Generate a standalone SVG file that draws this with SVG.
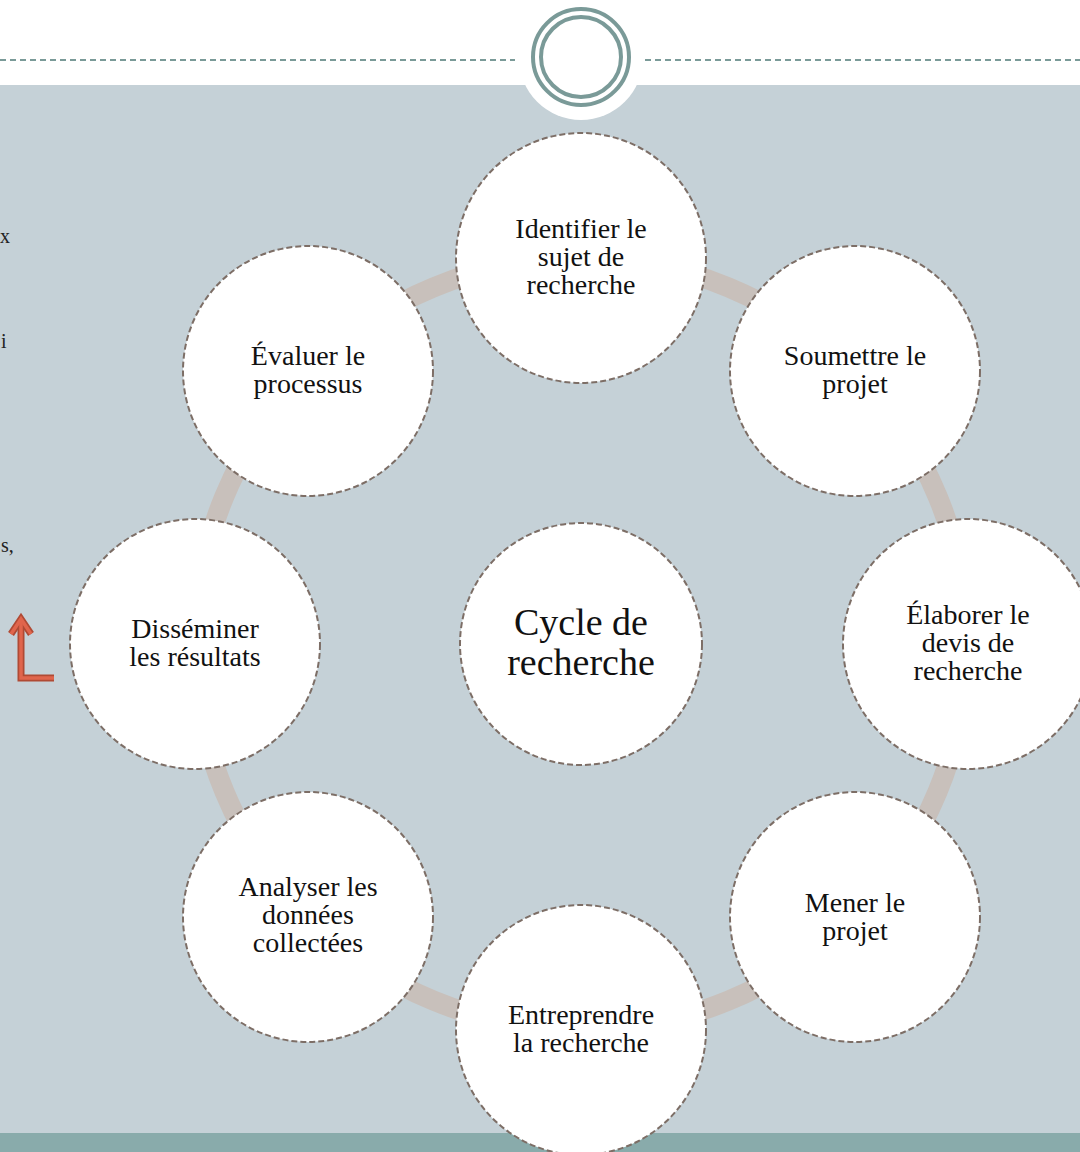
<svg xmlns="http://www.w3.org/2000/svg" width="1080" height="1152" viewBox="0 0 1080 1152">
<style>
.node{fill:#ffffff;stroke:#7d6e66;stroke-width:2;stroke-dasharray:6 3}
.lbl{font-family:"Liberation Serif","DejaVu Serif",serif;font-size:28px;fill:#111;text-anchor:middle}
.big{font-size:38px}
.ring{fill:none;stroke:#c8c0bb;stroke-width:20}
.frag{font-family:"Liberation Serif",serif;font-size:20px;fill:#222}
</style>
<rect x="0" y="0" width="1080" height="1152" fill="#ffffff"/>
<rect x="0" y="85" width="1080" height="1048" fill="#c5d1d7"/>
<rect x="0" y="1133" width="1080" height="19" fill="#89abab"/>
<g id="header">
<line x1="0" y1="60" x2="515" y2="60" stroke="#7a9a98" stroke-width="2" stroke-dasharray="6 4"/>
<line x1="645" y1="60" x2="1080" y2="60" stroke="#7a9a98" stroke-width="2" stroke-dasharray="6 4"/>
<circle cx="581" cy="58" r="62" fill="#ffffff"/>
<circle cx="581" cy="57" r="48" fill="none" stroke="#7a9a98" stroke-width="4"/>
<circle cx="581" cy="57" r="40" fill="none" stroke="#7a9a98" stroke-width="4"/>
</g>
<g id="fragments">
<text class="frag" x="0" y="243">x</text>
<text class="frag" x="1" y="348">i</text>
<text class="frag" x="1" y="552">s,</text>
</g>
<g id="arrow">
<path d="M21 622 L21 678 L54 678" fill="none" stroke="#b04a34" stroke-width="7"/>
<path d="M11 634 L21 619 L31 634" fill="none" stroke="#b04a34" stroke-width="7"/>
<path d="M21 622 L21 678 L54 678" fill="none" stroke="#e0654c" stroke-width="3.5"/>
<path d="M11 634 L21 619 L31 634" fill="none" stroke="#e0654c" stroke-width="3.5"/>
</g>
<g id="connectors">
<path class="ring" d="M581 258 A386 386 0 0 1 853.9 371.1"/>
<path class="ring" d="M853.9 371.1 A386 386 0 0 1 967 644"/>
<path class="ring" d="M967 644 A386 386 0 0 1 853.9 916.9"/>
<path class="ring" d="M853.9 916.9 A386 386 0 0 1 581 1030"/>
<path class="ring" d="M581 1030 A386 386 0 0 1 308.1 916.9"/>
<path class="ring" d="M308.1 916.9 A386 386 0 0 1 195 644"/>
<path class="ring" d="M195 644 A386 386 0 0 1 308.1 371.1"/>
<path class="ring" d="M308.1 371.1 A386 386 0 0 1 581 258"/>
</g>
<g id="n-center">
<circle class="node" cx="581" cy="644" r="121"/>
<text class="lbl big" x="581" y="635">Cycle de</text>
<text class="lbl big" x="581" y="675">recherche</text>
</g>
<g id="n-identifier">
<circle class="node" cx="581" cy="258" r="125"/>
<text class="lbl" x="581" y="238">Identifier le</text>
<text class="lbl" x="581" y="266">sujet de</text>
<text class="lbl" x="581" y="294">recherche</text>
</g>
<g id="n-soumettre">
<circle class="node" cx="855" cy="371" r="125"/>
<text class="lbl" x="855" y="365">Soumettre le</text>
<text class="lbl" x="855" y="393">projet</text>
</g>
<g id="n-elaborer">
<circle class="node" cx="968" cy="644" r="125"/>
<text class="lbl" x="968" y="624">Élaborer le</text>
<text class="lbl" x="968" y="652">devis de</text>
<text class="lbl" x="968" y="680">recherche</text>
</g>
<g id="n-mener">
<circle class="node" cx="855" cy="917" r="125"/>
<text class="lbl" x="855" y="912">Mener le</text>
<text class="lbl" x="855" y="940">projet</text>
</g>
<g id="n-entreprendre">
<circle class="node" cx="581" cy="1030" r="125"/>
<text class="lbl" x="581" y="1024">Entreprendre</text>
<text class="lbl" x="581" y="1052">la recherche</text>
</g>
<g id="n-analyser">
<circle class="node" cx="308" cy="917" r="125"/>
<text class="lbl" x="308" y="896">Analyser les</text>
<text class="lbl" x="308" y="924">données</text>
<text class="lbl" x="308" y="952">collectées</text>
</g>
<g id="n-disseminer">
<circle class="node" cx="195" cy="644" r="125"/>
<text class="lbl" x="195" y="638">Disséminer</text>
<text class="lbl" x="195" y="666">les résultats</text>
</g>
<g id="n-evaluer">
<circle class="node" cx="308" cy="371" r="125"/>
<text class="lbl" x="308" y="365">Évaluer le</text>
<text class="lbl" x="308" y="393">processus</text>
</g>
</svg>
